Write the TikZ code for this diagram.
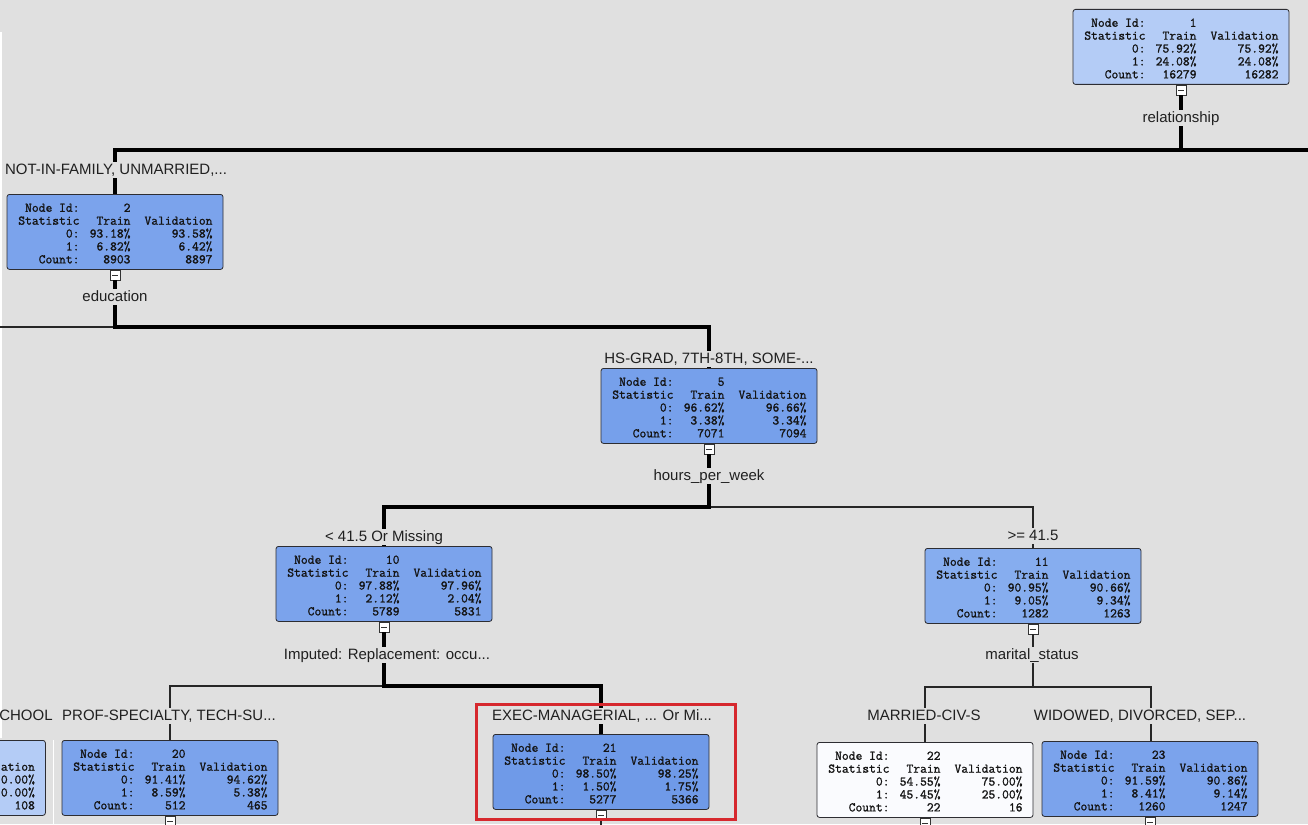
\documentclass[tikz,border=0pt]{standalone}
\usepackage{fontspec}
\newfontfamily\labfont{Liberation Sans}
\newfontfamily\boxmono{lmmono12-regular.otf}[FakeBold=1.2]
\definecolor{bg}{RGB}{224,224,224}
\definecolor{clight}{RGB}{180,204,246}
\definecolor{cmed}{RGB}{123,163,236}
\definecolor{cmedb}{RGB}{118,160,235}
\definecolor{cdark}{RGB}{111,154,232}
\definecolor{cpale}{RGB}{134,173,239}
\definecolor{cwhite}{RGB}{250,251,254}
\definecolor{boxline}{RGB}{45,45,50}
\definecolor{txt}{RGB}{20,20,20}
\definecolor{labtxt}{RGB}{32,32,32}
\definecolor{redframe}{RGB}{214,40,46}
\newcommand\trow[3]{\makebox[62pt][r]{#1}\makebox[51pt][r]{#2}\makebox[82pt][r]{#3}}
\newcommand\tcontent[7]{\rule{0pt}{11.5pt}\trow{Node Id:}{#1}{}\\\trow{Statistic}{Train}{Validation}\\\trow{0:}{#2}{#3}\\\trow{1:}{#4}{#5}\\\trow{Count:}{#6}{#7}}
\tikzset{
  tbox/.style={draw=boxline, line width=0.8pt, rounded corners=2.5pt,
    minimum width=216pt, minimum height=75pt, inner sep=0pt, align=left,
    font=\boxmono\fontsize{13.2}{12.9}\selectfont, text=txt, anchor=north},
  lab/.style={font=\labfont\fontsize{15}{15}\selectfont, text=labtxt,
    inner sep=1pt, text height=11pt, text depth=3pt},
  minusbox/.style={draw=black!80, fill=white, line width=0.6pt, minimum size=10pt,
    inner sep=0pt, anchor=north,
    path picture={\draw[line width=0.9pt] ([xshift=2pt]path picture bounding box.west) -- ([xshift=-2pt]path picture bounding box.east);}},
  thickline/.style={line width=4.5pt, black, line join=miter},
  thinline/.style={line width=1.6pt, black!85, line join=miter},
  redbox/.style={draw=redframe, line width=3pt},
}
\begin{document}
\begin{tikzpicture}[x=1pt,y=-1pt]
\useasboundingbox (0,0) rectangle (1308,824);
\clip (0,0) rectangle (1308,824);
\fill[bg] (0,0) rectangle (1308,824);
\fill[white] (0,32) rectangle (2,738);
\fill[white] (52.5,740) rectangle (54,824);

% nodes
\node[tbox, fill=clight] (n1) at (1181,9) {\tcontent{1}{75.92\%}{75.92\%}{24.08\%}{24.08\%}{16279}{16282}};
\node[minusbox] (m1) at (n1.south) {};
\node[lab] (lrel) at (1181,118) {relationship};

\node[lab] (l2) at (116,170) {NOT-IN-FAMILY, UNMARRIED,...};
\node[tbox, fill=cmed] (n2) at (115,194) {\tcontent{2}{93.18\%}{93.58\%}{6.82\%}{6.42\%}{8903}{8897}};
\node[minusbox] (m2) at (n2.south) {};
\node[lab] (le) at (115,297) {education};

\node[lab] (l5) at (709,359) {HS-GRAD, 7TH-8TH, SOME-...};
\node[tbox, fill=cmedb] (n5) at (709,368) {\tcontent{5}{96.62\%}{96.66\%}{3.38\%}{3.34\%}{7071}{7094}};
\node[minusbox] (m5) at (n5.south) {};
\node[lab] (lh) at (709,476) {hours\_per\_week};

\node[lab] (l10) at (384,537) {< 41.5 Or Missing};
\node[tbox, fill=cmed] (n10) at (384,546) {\tcontent{10}{97.88\%}{97.96\%}{2.12\%}{2.04\%}{5789}{5831}};
\node[minusbox] (m10) at (n10.south) {};
\node[lab] (limp) at (387,655) {Imputed: Replacement: occu...};

\node[lab] (l11) at (1033,536) {>= 41.5};
\node[tbox, fill=cpale] (n11) at (1033,548) {\tcontent{11}{90.95\%}{90.66\%}{9.05\%}{9.34\%}{1282}{1263}};
\node[minusbox] (m11) at (n11.south) {};
\node[lab] (lmar) at (1032,655) {marital\_status};

\node[lab] (l0) at (26,716) {CHOOL};
\node[tbox, fill=clight, anchor=north west] (n0) at (-171,740) {\rule{0pt}{11.5pt}\trow{}{}{}\\\trow{}{}{ation}\\\trow{}{}{0.00\%}\\\trow{}{}{0.00\%}\\\trow{}{}{108}};

\node[lab] (l20) at (169,716) {PROF-SPECIALTY, TECH-SU...};
\node[tbox, fill=cmed] (n20) at (170,740) {\tcontent{20}{91.41\%}{94.62\%}{8.59\%}{5.38\%}{512}{465}};
\node[minusbox] (m20) at (n20.south) {};

\node[lab] (l21) at (602,716) {EXEC-MANAGERIAL, ... Or Mi...};
\node[tbox, fill=cdark] (n21) at (601,734) {\tcontent{21}{98.50\%}{98.25\%}{1.50\%}{1.75\%}{5277}{5366}};
\node[minusbox] (m21) at (n21.south) {};

\node[lab] (l22) at (924,716) {MARRIED-CIV-S};
\node[tbox, fill=cwhite] (n22) at (925,742) {\tcontent{22}{54.55\%}{75.00\%}{45.45\%}{25.00\%}{22}{16}};
\node[minusbox] (m22) at (n22.south) {};

\node[lab] (l23) at (1140,716) {WIDOWED, DIVORCED, SEP...};
\node[tbox, fill=cmed] (n23) at (1150,741) {\tcontent{23}{91.59\%}{90.86\%}{8.41\%}{9.14\%}{1260}{1247}};
\node[minusbox] (m23) at (n23.south) {};

% junctions
\coordinate (j1) at (1181,150);
\coordinate (j1L) at (115,150);
\coordinate (j1R) at (1315,150);
\coordinate (jE) at (115,327);
\coordinate (jER) at (709,327);
\coordinate (jEL) at (-5,327);
\coordinate (jH) at (709,507);
\coordinate (jHL) at (384,507);
\coordinate (jHR) at (1033,507);
\coordinate (jI) at (384,686);
\coordinate (jIL) at (170,686);
\coordinate (jIR) at (601,686);
\coordinate (jM) at (1033,687);
\coordinate (jML) at (925,687);
\coordinate (jMR) at (1151,687);
\coordinate (jB21) at (601,830);

% connectors
\draw[thickline] (m1.south) -- (lrel.north);
\draw[thickline] (lrel.south) -- (j1);
\draw[thickline] (j1R) -- (j1L) -- (j1L |- l2.north);
\draw[thickline] (j1L |- l2.south) -- (n2.north);

\draw[thickline] (m2.south) -- (le.north);
\draw[thinline] (jE) -- (jEL);
\draw[thickline] (le.south) -- (jE) -- (jER) -- (jER |- l5.north);
\draw[thickline] (jER |- l5.south) -- (n5.north);

\draw[thickline] (m5.south) -- (lh.north);
\draw[thinline] (jH) -- (jHR) -- (jHR |- l11.north);
\draw[thinline] (jHR |- l11.south) -- (n11.north);
\draw[thickline] (lh.south) -- (jH) -- (jHL) -- (jHL |- l10.north);
\draw[thickline] (jHL |- l10.south) -- (n10.north);

\draw[thickline] (m10.south) -- (m10.south |- limp.north);
\draw[thinline] (jI) -- (jIL) -- (jIL |- l20.north);
\draw[thinline] (jIL |- l20.south) -- (n20.north);
\draw[thickline] (m10.south |- limp.south) -- (jI) -- (jIR) -- (jIR |- l21.north);
\draw[thickline] (jIR |- l21.south) -- (n21.north);
\draw[thinline] (m21.south) -- (jB21);

\draw[thinline] (m11.south) -- (m11.south |- lmar.north);
\draw[thinline] (m11.south |- lmar.south) -- (jM);
\draw[thinline] (jML |- l22.north) -- (jML) -- (jMR) -- (jMR |- l23.north);
\draw[thinline] (jML |- l22.south) -- (n22.north);
\draw[thinline] (jMR |- l23.south) -- (jMR |- n23.north);

% highlight frame
\draw[redbox] (476.5,704.5) rectangle (735,819);
\end{tikzpicture}
\end{document}
